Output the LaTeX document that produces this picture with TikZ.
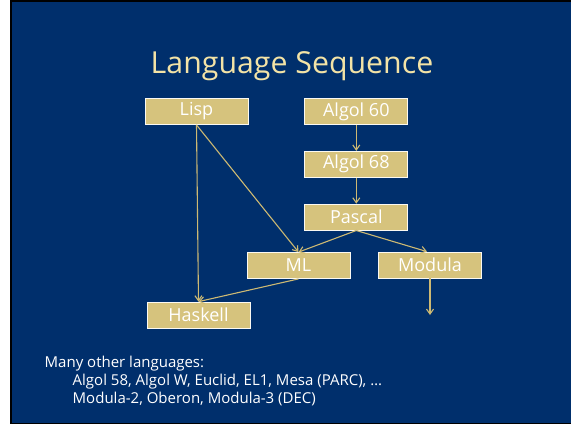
\documentclass[tikz,border=0pt]{standalone}
\usepackage{fontspec}
\setmainfont{Open Sans}
\usepackage{tikz}
\usetikzlibrary{positioning, arrows.meta}

\definecolor{slideblue}{RGB}{0,47,108}
\definecolor{boxtan}{RGB}{214,195,125}
\definecolor{titletan}{RGB}{243,227,166}
\definecolor{linetan}{RGB}{205,185,115}

\begin{document}
\begin{tikzpicture}[x=1pt, y=-1pt,
      lang/.style={draw=white!90!boxtan, line width=0.8pt, fill=boxtan,
        text=white, minimum width=103pt, minimum height=26pt, inner sep=0pt,
        font=\fontsize{18}{18}\selectfont},
      arr/.style={-{Straight Barb[length=5pt, width=7pt]}, draw=linetan,
        line width=1.1pt}
    ]
    % slide frame
    \useasboundingbox (0,0) rectangle (571,424);
    \fill[white] (0,0) rectangle (571,424);
    \fill[black] (10,0) rectangle (571,424);
    \fill[slideblue] (12,2) rectangle (571,423);

    \node[anchor=base, text=titletan, font=\fontsize{30.3}{30.3}\selectfont]
      (title) at (292,73) {Language Sequence};

    \node[lang] (lisp) at (196.5,111.5) {Lisp};
    \node[lang, right=56pt of lisp] (algolsixty) {Algol 60};
    \node[lang, below=26pt of algolsixty] (algolsixtyeight) {Algol 68};
    \node[lang, below=26pt of algolsixtyeight] (pascal) {Pascal};
    \node[lang] (ml) at (298.5,265.5) {ML};
    \node[lang] (modula) at (430,265) {Modula};
    \node[lang] (haskell) at (198.5,315) {Haskell};
    \coordinate (modulaend) at (430,315);

    \draw[arr] (algolsixty) -- (algolsixtyeight);
    \draw[arr] (algolsixtyeight) -- (pascal);
    \draw[arr] (pascal.south) -- (ml.north);
    \draw[arr] (pascal.south) -- ([xshift=-3pt]modula.north);
    \draw[arr] (lisp.south) -- (ml.north);
    \draw[arr] (lisp.south) -- (haskell.north);
    \draw[arr] (ml.south) -- (haskell.north);
    \draw[arr] (modula.south) -- (modulaend);

    \node[anchor=base west, align=left, text=white, inner sep=0pt,
      font=\fontsize{15}{18}\selectfont] (others) at (44.5,403)
      {Many other languages:\\
       \hspace*{28pt}Algol 58, Algol W, Euclid, EL1, Mesa (PARC), \dots\\
       \hspace*{28pt}Modula-2, Oberon, Modula-3 (DEC)};
  \end{tikzpicture}
\end{document}
